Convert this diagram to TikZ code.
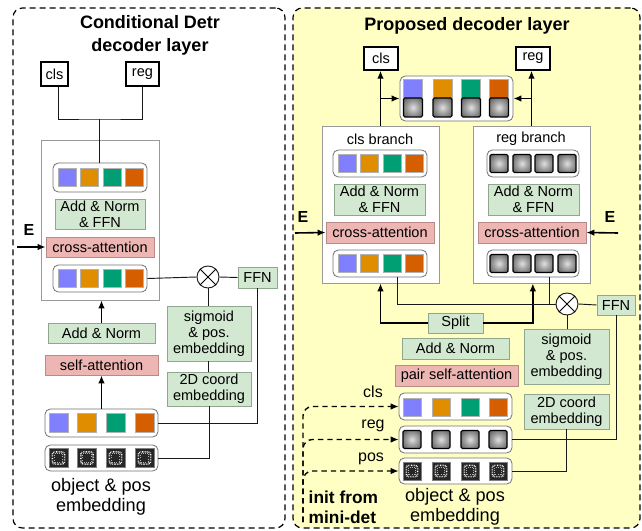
\documentclass[tikz,border=0pt]{standalone}
\usepackage{fontspec}
\setmainfont{Liberation Sans}
\usetikzlibrary{arrows.meta,calc}
\definecolor{cB}{HTML}{8080FF}
\definecolor{cO}{HTML}{E08E00}
\definecolor{cG}{HTML}{009E73}
\definecolor{cV}{HTML}{D55E00}
\definecolor{grnF}{HTML}{D3E8D1}
\definecolor{grnD}{HTML}{8FA88D}
\definecolor{pnkF}{HTML}{EDB6B3}
\definecolor{pnkD}{HTML}{B98A88}
\definecolor{ylw}{RGB}{255,255,196}
\pgfdeclareradialshading{sqshade}{\pgfpoint{0bp}{0bp}}{color(0bp)=(black!12); color(14bp)=(black!35); color(40bp)=(black!72); color(50bp)=(black!82)}
\newcommand{\bxf}{\fontsize{10.9}{12}\selectfont}
\def\sqs{13.5pt}
\tikzset{
  panelbox/.style={draw=black, line width=0.9pt, dash pattern=on 4.5pt off 3pt, rounded corners=7pt, inner sep=0pt},
  gbox/.style={draw=grnD, fill=grnF, line width=0.6pt, inner sep=0pt, align=center, font=\bxf},
  pbox/.style={draw=pnkD, fill=pnkF, line width=0.6pt, inner sep=0pt, align=center, font=\bxf},
  obox/.style={draw=black, fill=white, line width=0.9pt, inner sep=0pt, font=\bxf},
  bigbox/.style={draw=black!40, fill=white, line width=0.6pt, inner sep=0pt},
  rowbox/.style={draw=black!55, fill=white, line width=0.6pt, rounded corners=4pt, inner sep=0pt},
  conn/.style={draw=black!90, line width=0.7pt},
  thk/.style={draw=black, line width=1.2pt, -{Latex[length=6pt,width=5pt]}},
  dsh/.style={draw=black, line width=1pt, dash pattern=on 4pt off 3pt, -{Latex[length=6pt,width=5pt]}, rounded corners=7pt},
  csq/.style={draw=black!30, line width=0.3pt, minimum size=\sqs, inner sep=0pt},
  gsq/.style={draw=black, line width=0.8pt, shade, shading=sqshade, minimum size=\sqs, inner sep=0pt, rounded corners=1pt},
  psq/.style={draw=black!50, line width=0.6pt, fill=black!85, minimum size=\sqs, inner sep=0pt,
     path picture={\draw[white, line width=1.1pt, dash pattern=on 0.5pt off 0.7pt, rounded corners=1.5pt]
        ($(path picture bounding box.south west)+(2.6pt,2.6pt)$) rectangle ($(path picture bounding box.north east)+(-2.6pt,-2.6pt)$);
        \draw[white!70!black, line width=0.6pt, dash pattern=on 0.4pt off 1.2pt]
        ($(path picture bounding box.south west)+(4pt,4pt)$) rectangle ($(path picture bounding box.north east)+(-4pt,-4pt)$);}},
  xcirc/.style={circle, draw=black!90, fill=white, line width=0.7pt, minimum size=16.5pt, inner sep=0pt},
  ttl/.style={font=\fontsize{13.5}{17}\selectfont\bfseries, align=center},
  lbl/.style={font=\fontsize{13.6}{15}\selectfont, align=center},
  small/.style={font=\bxf},
  elbl/.style={font=\fontsize{12}{14}\selectfont\bfseries},
}
% box from corner (x1,y1) to (x2,y2) in px
\newcommand{\bx}[7]{\node[#1, minimum width={(#5-#3)*0.75pt}, minimum height={(#6-#4)*0.75pt}] (#2) at ({(#3+#5)/2},{(#4+#6)/2}) {#7};}
\newcommand{\colrow}[6]{%
  \node[csq, fill=cB] (#1a) at (#3,#2) {};
  \node[csq, fill=cO] (#1b) at (#4,#2) {};
  \node[csq, fill=cG] (#1c) at (#5,#2) {};
  \node[csq, fill=cV] (#1d) at (#6,#2) {};}
\newcommand{\grayrow}[6]{%
  \node[gsq] (#1a) at (#3,#2) {};
  \node[gsq] (#1b) at (#4,#2) {};
  \node[gsq] (#1c) at (#5,#2) {};
  \node[gsq] (#1d) at (#6,#2) {};}
\newcommand{\posrow}[6]{%
  \node[psq] (#1a) at (#3,#2) {};
  \node[psq] (#1b) at (#4,#2) {};
  \node[psq] (#1c) at (#5,#2) {};
  \node[psq] (#1d) at (#6,#2) {};}
\begin{document}
\begin{tikzpicture}[x=0.75pt,y=-0.75pt]
\useasboundingbox (0,0) rectangle (642,531);
\fill[white] (0,0) rectangle (642,531);

% ================= LEFT PANEL =================
\bx{panelbox, fill=white}{LP}{13}{8}{285}{528}{}
\node[ttl] (LT) at (150,35.5) {Conditional Detr\\decoder layer};
\bx{obox}{Lcls}{41}{62}{68}{86}{cls}
\bx{obox}{Lreg}{126}{62}{159}{86}{reg}
\bx{bigbox}{LBig}{41}{140}{159}{300}{}
\bx{rowbox}{LR1}{53}{163}{147}{192}{}
\colrow{LR1q}{177.5}{67}{89.5}{112}{134}
\bx{gbox}{LANF}{55}{199}{145}{229}{Add \& Norm\\\& FFN}
\bx{pbox}{LCA}{46}{237}{154}{257}{cross-attention}
\bx{rowbox}{LR2}{53}{265}{147}{292}{}
\colrow{LR2q}{278.5}{67}{89.5}{112}{134}
\node[xcirc] (LX) at (208,277) {};
\draw[line width=0.7pt] (LX.north west) -- (LX.south east) (LX.north east) -- (LX.south west);
\bx{gbox}{LFFN}{238}{267}{277}{288}{FFN}
\bx{gbox}{LAN}{48}{323}{155}{343}{Add \& Norm}
\bx{pbox}{LSA}{45}{355}{158}{375}{self-attention}
\bx{gbox}{LSig}{167}{306}{251}{361}{sigmoid\\\& pos.\\embedding}
\bx{gbox}{L2D}{167}{372}{251}{406}{2D coord\\embedding}
\bx{rowbox}{LR3}{45}{409}{158}{437}{}
\bx{rowbox}{LR4}{45}{445}{158}{471}{}
\def\sqs{14.25pt}
\colrow{LR3q}{423}{58.5}{87}{115.5}{144.5}
\posrow{LR4q}{458}{58.5}{87}{115.5}{144.5}
\def\sqs{13.5pt}
\node[lbl] (LObj) at (101,497) {object \& pos\\embedding};
\node[elbl] (LE) at (29,230) {E};
\coordinate (LEs) at (17,247);
\coordinate (LJ) at (99,119);

\draw[conn] ([xshift=3pt]Lcls.south) |- (LJ) -| (Lreg.south);
\draw[conn] (LJ) -- (LJ |- LR1.north);
\draw[thk] (LEs) -- (LCA.west);
\draw[conn] (LR2.east) -- (LX.west);
\draw[conn] (LX.east) -- (LFFN.west);
\draw[conn] (LX.south) -- (LX.south |- LSig.north);
\draw[conn] (LX.south |- LSig.south) -- (LX.south |- L2D.north);
\draw[thk] (LAN.north) -- (LAN.north |- LBig.south);
\draw[thk] (LR3.north) -- (LR3.north |- LSA.south);
\draw[conn] (LR3.east) -| (LFFN.south);
\draw[conn] (LR4.east) -| (L2D.south);

% ================= RIGHT PANEL =================
\bx{panelbox, fill=ylw}{RP}{293}{8}{640}{528}{}
\node[ttl] (RT) at (467,26) {Proposed decoder layer};
\bx{obox}{Rcls}{364}{47}{398}{70}{cls}
\bx{obox}{Rreg}{516}{47}{550}{70}{reg}
\bx{rowbox}{RTop}{400}{76}{513}{121}{}
\def\sqs{14.25pt}
\colrow{RTopc}{89}{413}{442.5}{471}{499}
\grayrow{RTopg}{107.5}{413}{442.5}{471}{499}
\def\sqs{13.5pt}
\bx{bigbox}{RclsB}{322}{126}{439}{283}{}
\bx{bigbox}{RregB}{473}{126}{590}{283}{}
\node[small] (RclsT) at (380,139) {cls branch};
\node[small] (RregT) at (531,139) {reg branch};
\bx{rowbox}{RC1}{333}{150}{427}{177}{}
\colrow{RC1q}{163.5}{347}{369.5}{392}{414}
\bx{rowbox}{RG1}{487}{150}{579}{177}{}
\grayrow{RG1q}{163.5}{499}{522}{544}{567}
\bx{gbox}{RCANF}{334}{184}{425}{215}{Add \& Norm\\\& FFN}
\bx{gbox}{RGANF}{488}{184}{579}{215}{Add \& Norm\\\& FFN}
\bx{pbox}{RCCA}{326}{222}{434}{243}{cross-attention}
\bx{pbox}{RGCA}{478}{222}{586}{243}{cross-attention}
\bx{rowbox}{RC2}{333}{250}{427}{277}{}
\colrow{RC2q}{263.5}{347}{369.5}{392}{414}
\bx{rowbox}{RG2}{487}{250}{579}{277}{}
\grayrow{RG2q}{263.5}{499}{522}{544}{567}
\node[elbl] (RE1) at (303,217) {E};
\node[elbl] (RE2) at (610,217) {E};
\coordinate (RE1s) at (295,233);
\coordinate (RE2s) at (618,233);
\bx{gbox}{RSplit}{428}{313}{483}{333}{Split}
\node[xcirc] (RX) at (567,304) {};
\draw[line width=0.7pt] (RX.north west) -- (RX.south east) (RX.north east) -- (RX.south west);
\bx{gbox}{RFFN}{597}{295}{635}{315}{FFN}
\bx{gbox}{RSig}{524}{329}{609}{384}{sigmoid\\\& pos.\\embedding}
\bx{gbox}{R2D}{524}{394}{609}{429}{2D coord\\embedding}
\bx{gbox}{RAN}{402}{338}{509}{359}{Add \& Norm}
\bx{pbox}{RPSA}{395}{365}{518}{386}{pair self-attention}
\bx{rowbox}{RRc}{399}{393}{512}{420}{}
\colrow{RRcq}{407}{412}{441}{470}{498}
\bx{rowbox}{RRr}{399}{426}{512}{453}{}
\grayrow{RRrq}{439.5}{412}{441}{470}{498}
\bx{rowbox}{RRp}{399}{458}{512}{484}{}
\posrow{RRpq}{471}{412}{441}{470}{498}
\node[font=\fontsize{12}{14}\selectfont] (RLc) at (373,392) {cls};
\node[font=\fontsize{12}{14}\selectfont] (RLr) at (373,426) {reg};
\node[font=\fontsize{12}{14}\selectfont] (RLp) at (371,459) {pos};
\node[font=\fontsize{13}{15}\selectfont\bfseries, align=left, anchor=west] (RInit) at (304,507) {init from\\mini-det};
\node[lbl] (RObj) at (455,507) {object \& pos\\embedding};
\coordinate (RD) at (303,522);

% connectors right
\draw[thk] (RclsB.north) -- (RclsB.north |- Rcls.south);
\draw[thk] (RregB.north) -- (RregB.north |- Rreg.south);
\draw[thk] (RclsB.north |- RTop.west) -- (RTop.west);
\draw[thk] (RregB.north |- RTop.east) -- (RTop.east);
\draw[thk] (RE1s) -- (RCCA.west);
\draw[thk] (RE2s) -- (RGCA.east);
\draw[thk] (RSplit.west) -| (RclsB.south);
\draw[thk] (RSplit.east) -| ([xshift=1pt]RregB.south);
\draw[conn] ([xshift=12.75pt]RC2.south) |- (RX.west);
\draw[conn] ([xshift=12pt]RG2.south) -- ([xshift=12pt]RG2.south |- RX.west);
\draw[conn] (RX.east) -- (RFFN.west);
\draw[conn] (RX.south) -- (RX.south |- RSig.north);
\draw[conn] (RRr.east) -| (RFFN.south);
\draw[conn] (RRp.east) -| (R2D.south);
\draw[dsh] (RD) |- (RRc.west);
\draw[dsh] (RD) |- (RRr.west);
\draw[dsh] (RD) |- (RRp.west);
\end{tikzpicture}
\end{document}
